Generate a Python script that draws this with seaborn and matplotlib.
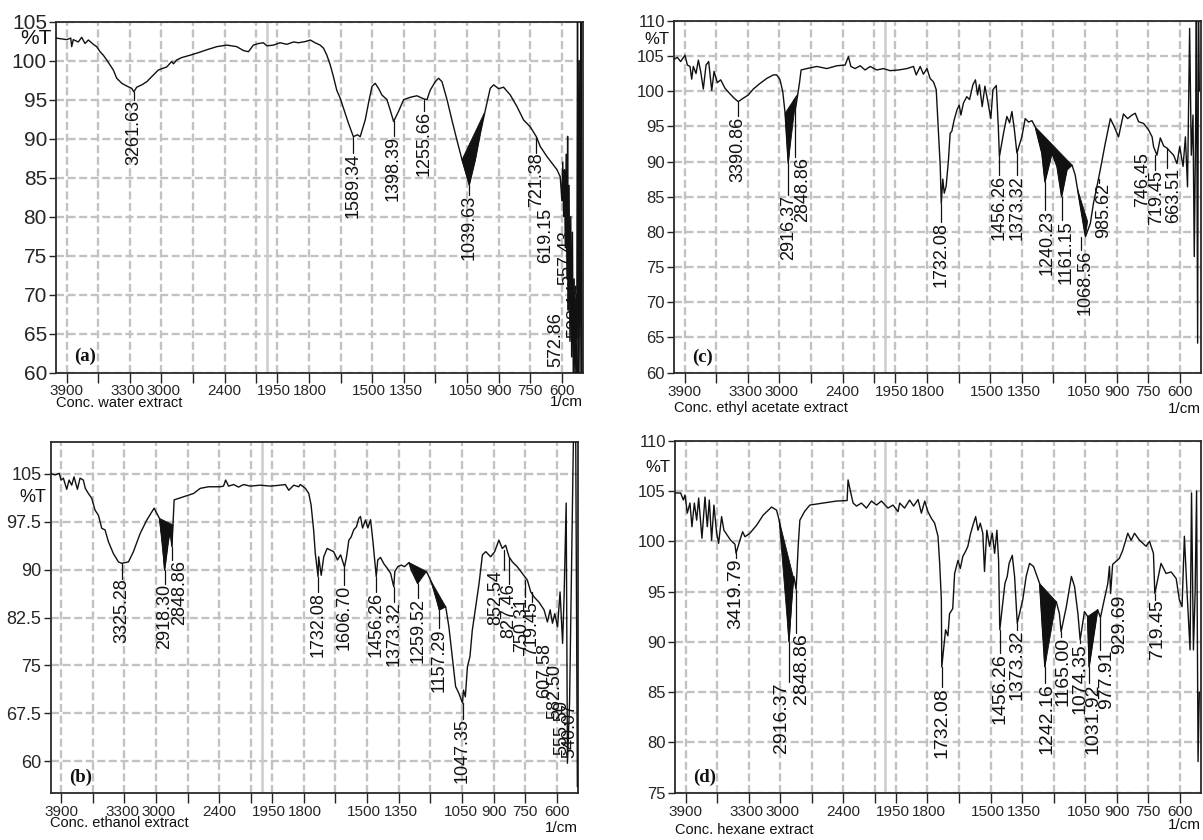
import matplotlib
matplotlib.use("Agg")
import matplotlib.pyplot as plt
import matplotlib.transforms as mtransforms
import seaborn as sns
import numpy as np

sns.set_theme(style="white")
REGULAR = ['Liberation Sans', 'DejaVu Sans']
plt.rcParams['font.family'] = REGULAR

# ---- x axis (wavenumber, 1/cm) ----
x_ticks = [3900, 3600, 3300, 3000, 2700, 2400, 2100, 1950, 1800, 1650,
           1500, 1350, 1200, 1050, 900, 750, 600]
x_tick_labels = ['3900', '', '3300', '3000', '', '2400', '', '1950', '1800', '',
                 '1500', '1350', '', '1050', '900', '750', '600']
# small horizontal nudges (px) of crowded tick labels
x_label_shift = [0, 0, -2, 2, 0, 0, 0, -3, 1, 0, -3, 2, 0, -1, 0, 0, 0]

# ---- (a) water extract: (wavenumber, %T) ----
spec_a = [
    (4000, 102.9), (3898, 102.7), (3860, 102.9), (3851, 101.8), (3836, 102.7), (3788, 102.4),
    (3756, 103.0), (3725, 102.2), (3693, 102.65), (3646, 102.1), (3614, 101.8), (3582, 101.15),
    (3551, 100.7), (3519, 100.1), (3487, 99.45), (3456, 98.8), (3424, 97.75), (3376, 97.1),
    (3329, 96.75), (3281, 96.45), (3261.63, 96.0), (3234, 96.6), (3186, 96.9), (3139, 97.3),
    (3092, 97.95), (3029, 98.8), (2949, 99.2), (2902, 99.9), (2886, 99.6), (2854, 100.1),
    (2807, 100.4), (2728, 100.7), (2633, 101.1), (2569, 101.4), (2474, 101.8), (2380, 102.0),
    (2285, 101.8), (2222, 101.3), (2174, 101.15), (2127, 102.0), (2079, 102.2), (2032, 102.3),
    (2000, 101.9), (1968, 102.0), (1937, 102.3), (1905, 102.1), (1873, 102.4), (1850, 102.3),
    (1818, 102.45), (1794, 102.65), (1771, 102.3), (1747, 102.0), (1731, 101.6), (1715, 100.7),
    (1699, 99.45), (1684, 97.95), (1668, 96.2), (1652, 95.2), (1636, 93.9), (1613, 92.0),
    (1589.34, 90.25), (1570, 90.5), (1557, 90.25), (1533, 92.4), (1518, 94.5), (1501, 96.7),
    (1486, 97.1), (1470, 96.45), (1454, 95.6), (1430, 95.0), (1415, 93.7), (1398.39, 92.2),
    (1375, 93.5), (1351, 95.0), (1320, 95.3), (1288, 95.5), (1255.66, 95.1), (1240, 95.0),
    (1225, 96.2), (1201, 97.3), (1185, 97.75), (1169, 97.3), (1145, 95.0), (1122, 92.4),
    (1098, 89.8), (1074, 87.3), (1050, 85.1), (1039.63, 84.05), (1011, 87.3), (987, 90.7),
    (963, 93.7), (940, 96.45), (924, 96.9), (900, 96.4), (877, 96.6), (845, 95.6),
    (813, 94.1), (782, 92.4), (750, 91.5), (721.38, 90.25), (703, 89.0), (671, 87.7),
    (647, 86.85), (623, 86.0), (608, 85.1), (600, 82.0), (596, 87.0), (592, 80.0),
    (588, 86.0), (584, 76.0), (580, 88.0), (576, 72.0), (573, 90.3), (570, 68.0),
    (566, 84.0), (562, 64.0), (558, 80.0), (554, 62.0), (550, 78.0), (546, 59.0),
    (542, 72.0), (538, 59.0), (534, 70.0), (530, 59.0), (526, 108.0), (522, 59.0),
    (518, 100.0), (514, 59.0), (510, 108.0), (506, 59.0),
]
fills_a = [
    [(1074, 87.3), (1050, 85.1), (1039.63, 84.05), (1011, 87.3), (987, 90.7), (968, 93.3)],
]
peaks_a = [3261.63, 1589.34, 1398.39, 1255.66, 1039.63, 721.38, 619.15, 572.86, 557.43, 538.14]
lead_a = [96.0, 90.25, 92.2, 95.1, 84.05, 90.25, 81.1, 67.8, 78.3, 71.5]
top_a = [95.0, 88.2, 90.3, 93.5, 82.8, 88.2, 81.1, 67.8, 78.3, 71.5]
dx_a = [0, 0, 0, 0, 0, 0, -12, -12, -5, 0]

# ---- (c) ethyl acetate extract ----
spec_c = [
    (4000, 104.5), (3969, 104.8), (3937, 104.2), (3896, 105.1), (3873, 103.7), (3848, 103.5),
    (3832, 101.7), (3817, 103.5), (3791, 102.5), (3769, 104.4), (3747, 102.8), (3722, 100.3),
    (3696, 103.7), (3671, 104.2), (3642, 100.1), (3620, 102.8), (3589, 101.2), (3557, 101.6),
    (3516, 100.4), (3468, 99.6), (3430, 99.0), (3390.86, 98.5), (3342, 99.0), (3295, 99.45),
    (3247, 100.3), (3183, 101.1), (3120, 101.8), (3057, 102.3), (3025, 102.3), (2994, 101.6),
    (2968, 99.9), (2946, 96.85), (2916.37, 89.75), (2877, 97.3), (2860, 98.7), (2848.86, 97.3),
    (2810, 101.1), (2794, 103.0), (2740, 103.2), (2645, 103.5), (2550, 103.2), (2455, 103.6),
    (2377, 103.7), (2345, 104.9), (2322, 103.5), (2282, 103.2), (2234, 103.6), (2187, 103.0),
    (2139, 103.5), (2076, 103.0), (2013, 103.2), (1975, 102.9), (1935, 103.0), (1895, 103.2),
    (1864, 103.5), (1851, 102.3), (1832, 103.5), (1817, 102.4), (1800, 103.2), (1785, 101.8),
    (1769, 101.3), (1756, 100.2), (1745, 94.0), (1737, 89.3), (1732.08, 84.0), (1725, 87.5),
    (1718, 85.5), (1709, 86.5), (1698, 90.2), (1690, 94.0), (1682, 94.3), (1671, 95.9),
    (1658, 97.3), (1647, 98.0), (1639, 96.6), (1627, 98.3), (1611, 99.2), (1598, 98.8),
    (1582, 100.9), (1570, 101.6), (1560, 99.45), (1551, 100.9), (1538, 97.8), (1525, 100.7),
    (1513, 98.8), (1497, 96.1), (1487, 100.2), (1471, 100.8), (1461, 94.5), (1456.26, 90.7),
    (1437, 94.0), (1421, 96.4), (1408, 95.5), (1397, 97.1), (1386, 94.7), (1373.32, 91.2),
    (1350, 93.5), (1334, 96.1), (1318, 95.6), (1302, 95.8), (1286, 94.9), (1255, 91.2),
    (1240.23, 87.1), (1207, 91.2), (1183, 89.3), (1161.15, 85.0), (1136, 88.8), (1112, 89.5),
    (1097, 88.1), (1081, 85.2), (1048, 79.3), (1025, 81.2), (1010, 84.1), (994, 86.4),
    (978, 88.8), (954, 92.6), (930, 96.1), (911, 94.9), (891, 93.5), (868, 96.75),
    (848, 96.1), (827, 96.6), (812, 96.85), (796, 95.65), (772, 95.4), (749, 94.5),
    (732, 93.5), (725, 92.1), (709, 90.9), (693, 93.35), (677, 92.2), (661, 91.9),
    (646, 91.4), (630, 90.9), (614, 89.7), (601, 92.1), (585, 89.3), (574, 93.5),
    (564, 86.4), (554, 108.9), (546, 90.9), (538, 96.6), (532, 76.5), (525, 96.4),
    (522, 112.0), (516, 64.2), (512, 112.0), (508, 100.0),
]
fills_c = [
    [(2946, 96.85), (2916.37, 89.75), (2875, 95.0), (2850, 98.0), (2835, 99.4)],
    [(1286, 94.9), (1255, 91.2), (1240.23, 87.1), (1207, 91.2), (1183, 89.3),
     (1161.15, 85.0), (1136, 88.8), (1112, 89.5)],
    [(1085, 86.0), (1048, 79.3), (1038, 81.5)],
]
peaks_c = [3390.86, 2916.37, 2848.86, 1732.08, 1456.26, 1373.32, 1240.23, 1161.15,
           1068.56, 985.62, 746.45, 719.45, 663.51]
lead_c = [98.5, 89.75, 97.3, 84.0, 90.7, 91.2, 87.1, 85.0, 79.3, 87.5, 91.4, 90.9, 91.9]
top_c = [96.4, 85.2, 90.7, 81.45, 88.1, 88.1, 83.1, 81.7, 77.4, 87.0, 91.4, 88.8, 89.1]
dx_c = [0, 0, 7, 0, 0, 0, 2, 4, 4, 5, -6, 2, 7]

# ---- (b) ethanol extract ----
spec_b = [
    (4000, 105.05), (3957, 104.8), (3917, 105.05), (3900, 104.0), (3878, 104.3), (3846, 102.55),
    (3824, 104.0), (3799, 103.2), (3777, 104.5), (3745, 102.55), (3720, 104.3), (3689, 104.0),
    (3670, 102.7), (3641, 101.9), (3609, 101.15), (3578, 99.3), (3546, 98.5), (3514, 96.45),
    (3483, 96.2), (3451, 94.35), (3404, 92.5), (3356, 91.2), (3325.28, 90.97), (3261, 91.2),
    (3214, 92.8), (3150, 95.65), (3087, 97.75), (3018, 99.6), (2967, 98.0), (2935, 94.1),
    (2918.30, 89.9), (2882, 94.6), (2865, 95.9), (2848.86, 93.6), (2828, 100.9), (2754, 101.3),
    (2644, 101.9), (2581, 102.7), (2502, 102.95), (2391, 102.95), (2360, 103.05), (2340, 104.0),
    (2312, 103.05), (2265, 103.3), (2217, 102.9), (2170, 103.3), (2106, 103.05), (2011, 103.2),
    (1958, 103.05), (1911, 103.2), (1887, 103.3), (1871, 102.4), (1847, 103.2), (1824, 102.95),
    (1816, 103.3), (1792, 102.7), (1776, 101.9), (1765, 100.1), (1753, 96.2), (1745, 92.5),
    (1732.08, 88.9), (1729, 92.0), (1717, 89.1), (1705, 92.0), (1689, 93.3), (1673, 93.05),
    (1658, 92.8), (1640, 91.5), (1625, 92.3), (1606.70, 90.4), (1597, 92.0), (1586, 94.6),
    (1575, 95.1), (1563, 96.2), (1550, 96.7), (1539, 98.0), (1531, 98.3), (1521, 96.5),
    (1507, 97.75), (1496, 96.5), (1483, 97.8), (1471, 94.1), (1456.26, 88.9), (1449, 91.5),
    (1436, 91.9), (1420, 90.9), (1404, 90.2), (1388, 89.4), (1373.32, 87.3), (1368, 89.7),
    (1354, 90.45), (1338, 90.7), (1322, 90.45), (1301, 91.1), (1290, 89.9), (1259.52, 87.8),
    (1238, 89.4), (1218, 89.7), (1199, 88.35), (1180, 86.8), (1157.29, 83.7), (1127, 84.2),
    (1112, 81.05), (1096, 76.4), (1080, 71.7), (1064, 70.6), (1047.35, 69.1), (1043, 71.15),
    (1034, 70.1), (1024, 74.8), (1012, 76.4), (1001, 80.5), (985, 84.2), (969, 87.8),
    (953, 92.3), (937, 92.8), (914, 92.0), (895, 92.8), (875, 94.6), (859, 93.3),
    (843, 93.8), (827, 92.0), (811, 91.2), (788, 90.45), (764, 89.4), (740, 88.35),
    (724, 86.5), (708, 85.7), (685, 84.9), (661, 83.7), (645, 81.8), (632, 83.7),
    (621, 81.6), (610, 83.1), (597, 81.05), (585, 86.5), (573, 78.45), (566, 85.7),
    (556, 100.4), (550, 59.7), (540, 69.1), (521, 112.0), (511, 112.0), (503, 56.0),
]
fills_b = [
    [(2967, 98.0), (2918.30, 89.9), (2882, 94.6), (2865, 95.9), (2848.86, 93.6), (2840, 97.0)],
    [(1301, 91.1), (1259.52, 87.8), (1218, 89.7)],
    [(1199, 88.35), (1157.29, 83.7), (1127, 84.2)],
]
peaks_b = [3325.28, 2918.30, 2848.86, 1732.08, 1606.70, 1456.26, 1373.32, 1259.52, 1157.29,
           1047.35, 852.54, 827.46, 750.31, 719.45, 607.58, 582.50, 555.50, 540.07]
lead_b = [90.97, 89.9, 93.6, 88.9, 90.4, 88.9, 87.3, 87.8, 83.7, 69.1, 93.0, 92.0, 88.4,
          86.5, 78.5, 75.3, 69.6, 69.1]
top_b = [88.6, 87.8, 91.5, 86.5, 87.6, 86.5, 85.0, 85.5, 80.8, 66.7, 89.9, 87.8, 85.7,
         85.0, 78.5, 75.3, 69.6, 69.1]
dx_b = [0, 0, 8, 0, 0, 0, 0, 0, 0, 0, -8, 0, -4, 0, -11, -6, -4, 0]

# ---- (d) hexane extract ----
spec_d = [
    (4000, 104.8), (3946, 104.8), (3921, 104.1), (3905, 104.6), (3883, 102.8), (3858, 103.8),
    (3839, 101.45), (3816, 103.8), (3794, 102.1), (3775, 104.3), (3744, 100.3), (3715, 104.4),
    (3693, 101.45), (3674, 104.1), (3652, 100.1), (3630, 103.6), (3604, 100.8), (3585, 99.8),
    (3557, 102.45), (3535, 101.1), (3503, 100.6), (3471, 100.1), (3430, 99.7), (3419.79, 98.8),
    (3383, 100.1), (3357, 100.95), (3335, 100.45), (3288, 100.8), (3224, 101.6), (3162, 102.6),
    (3082, 103.4), (3035, 103.1), (3010, 102.1), (2972, 99.5), (2934, 93.5), (2916.37, 90.0),
    (2889, 94.8), (2870, 96.5), (2848.86, 95.2), (2829, 99.5), (2813, 102.1), (2766, 103.0),
    (2718, 103.6), (2592, 103.8), (2465, 104.0), (2364, 104.05), (2355, 106.1), (2332, 104.95),
    (2307, 103.8), (2275, 103.5), (2228, 103.8), (2180, 103.3), (2133, 104.0), (2085, 103.6),
    (2038, 104.0), (1988, 103.3), (1964, 103.6), (1940, 102.95), (1932, 103.8), (1909, 103.3),
    (1885, 104.1), (1866, 103.5), (1845, 104.15), (1829, 102.8), (1813, 104.0), (1798, 102.95),
    (1782, 102.3), (1766, 101.8), (1750, 100.5), (1742, 97.8), (1734, 94.2), (1732.08, 87.5),
    (1714, 91.2), (1703, 90.6), (1695, 92.8), (1680, 93.3), (1671, 96.8), (1655, 98.1),
    (1644, 97.3), (1632, 98.5), (1619, 99.0), (1608, 99.5), (1596, 100.7), (1584, 101.6),
    (1571, 102.45), (1560, 101.1), (1549, 101.8), (1537, 100.8), (1529, 97.0), (1518, 101.1),
    (1505, 99.5), (1492, 100.8), (1481, 98.8), (1470, 101.1), (1462, 98.1), (1456.26, 91.2),
    (1432, 95.8), (1421, 96.5), (1412, 97.8), (1397, 98.6), (1386, 96.5), (1373.32, 91.85),
    (1347, 94.2), (1331, 96.5), (1315, 97.8), (1296, 97.5), (1267, 95.8), (1242.16, 87.5),
    (1212, 93.5), (1188, 94.0), (1173, 92.8), (1165.00, 91.0), (1140, 93.5), (1116, 96.5),
    (1101, 95.5), (1085, 92.8), (1074.35, 90.2), (1054, 93.0), (1038, 92.5), (1031.92, 87.5),
    (991, 93.2), (977.91, 92.4), (967, 93.5), (943, 95.8), (935, 97.5), (929.69, 94.8),
    (920, 97.7), (888, 98.3), (872, 99.1), (848, 100.8), (832, 100.1), (816, 100.8),
    (792, 100.1), (761, 99.5), (745, 100.0), (726, 98.8), (719.45, 94.8), (690, 97.8),
    (666, 96.8), (642, 96.95), (618, 96.3), (603, 94.2), (590, 93.5), (579, 100.5),
    (566, 94.8), (552, 89.2), (545, 104.8), (536, 89.2), (528, 94.8), (521, 105.0),
    (514, 78.1), (508, 85.0),
]
fills_d = [
    [(3010, 102.1), (2916.37, 90.0), (2872, 96.3)],
    [(1267, 95.8), (1242.16, 87.5), (1188, 94.0)],
    [(1040, 92.5), (1031.92, 87.5), (991, 93.2)],
]
peaks_d = [3419.79, 2916.37, 2848.86, 1732.08, 1456.26, 1373.32, 1242.16, 1165.00,
           1074.35, 1031.92, 977.91, 929.69, 719.45]
lead_d = [98.8, 90.0, 95.2, 87.5, 91.2, 91.85, 87.5, 91.0, 90.2, 87.5, 92.4, 94.8, 94.8]
top_d = [98.3, 86.0, 90.85, 85.5, 88.9, 91.2, 85.9, 90.5, 89.9, 85.9, 89.2, 94.7, 94.2]
dx_d = [0, -7, 5, 0, 0, 0, 2, 2, 0, 4, 6, 9, 3]


def wn_forward(w):
    w = np.asarray(w, dtype=float)
    return np.where(w >= 2000, (w - 2000) / 300.0, (w - 2000) / 150.0)


def wn_inverse(u):
    u = np.asarray(u, dtype=float)
    return np.where(u >= 0, 2000 + 300.0 * u, 2000 + 150.0 * u)


W, H = 1203, 840
fig = plt.figure(figsize=(W / 100, H / 100), dpi=100)
GRID_COLOR = '#c2c2c2'
GRID_DASH = (0, (3.4, 1.5))


def add_axes_px(left, right, top, bottom):
    return fig.add_axes([left / W, 1 - bottom / H, (right - left) / W, (bottom - top) / H])


def draw_panel(ax, spec, fills, peaks, lead, tops, dxs, ylim, yticks, ysize,
               name, letter, pct_y, name_y, unit_y, peak_size=13):
    wn = [p[0] for p in spec]
    tr = [p[1] for p in spec]
    ax.set_xscale('function', functions=(wn_forward, wn_inverse))

    # dashed grid at every tick, plus the solid scale-change line at 2000
    ax.vlines(x_ticks, 0, 1, transform=ax.get_xaxis_transform(), colors=GRID_COLOR,
              linestyles=[GRID_DASH], linewidth=1.7, zorder=1)
    ax.hlines(yticks, 0, 1, transform=ax.get_yaxis_transform(), colors=GRID_COLOR,
              linestyles=[GRID_DASH], linewidth=1.7, zorder=1)
    ax.axvline(2000, color='#cccccc', lw=1.8, zorder=1)

    sns.lineplot(x=wn, y=tr, ax=ax, sort=False, estimator=None,
                 color='#111111', linewidth=1.0, zorder=3)
    for poly in fills:
        ax.fill([p[0] for p in poly], [p[1] for p in poly], color='#111111', lw=0.6, zorder=3)

    for w, lt, tt, dx in zip(peaks, lead, tops, dxs):
        if lt - tt > 0.2:
            ax.plot([w, w], [tt, lt], color='#111111', lw=0.9, zorder=3)
        ax.annotate(f"{w:.2f}", xy=(w, tt), xytext=(dx * 0.72, 0), textcoords='offset points',
                    rotation=90, ha='center', va='top', fontsize=peak_size,
                    color='#111111', zorder=4)

    ax.set_xlim(4000, 500)
    ax.set_ylim(*ylim)
    ax.set_xticks(x_ticks)
    ax.set_xticklabels(x_tick_labels)
    ax.set_yticks(yticks)
    ax.set_yticklabels([f"{v:g}" for v in yticks])
    ax.set_xlabel('')
    ax.set_ylabel('')
    ax.tick_params(axis='x', direction='out', length=7, width=1.0, pad=1.5,
                   labelsize=11, color='#222222', bottom=True)
    ax.tick_params(axis='y', direction='out', length=5, width=1.0, pad=1.5,
                   labelsize=ysize, color='#222222', left=True)
    for s in ax.spines.values():
        s.set_visible(True)
        s.set_color('#2a2a2a')
        s.set_linewidth(1.3)
    for lab, sh in zip(ax.get_xticklabels(), x_label_shift):
        if sh:
            lab.set_transform(lab.get_transform() +
                              mtransforms.ScaledTranslation(sh / 100, 0, fig.dpi_scale_trans))

    ax.text(-0.008, pct_y, '%T', transform=ax.get_yaxis_transform(), ha='right',
            va='center', fontsize=ysize, color='#111111')
    ax.text(0.0, name_y, name, transform=ax.transAxes, ha='left', va='center',
            fontsize=10.5, color='#111111')
    ax.text(1.0, unit_y, '1/cm', transform=ax.transAxes, ha='right', va='center',
            fontsize=11, color='#111111')
    ax.text(0.035, 0.02, letter, transform=ax.transAxes, ha='left', va='bottom',
            fontsize=13.5, fontweight='bold', family=['Liberation Serif', 'DejaVu Serif'],
            color='#111111')


ax_a = add_axes_px(56, 583, 21.7, 372.5)
ax_c = add_axes_px(674, 1201, 20.7, 372.7)
ax_b = add_axes_px(50.5, 578, 441.7, 793.3)
ax_d = add_axes_px(675, 1201, 440.7, 792.7)

draw_panel(ax_a, spec_a, fills_a, peaks_a, lead_a, top_a, dx_a, (60, 105),
           [60, 65, 70, 75, 80, 85, 90, 95, 100, 105], 15,
           'Conc. water extract', '(a)', 102.9, -0.087, -0.085)
draw_panel(ax_c, spec_c, fills_c, peaks_c, lead_c, top_c, dx_c, (60, 110),
           [60, 65, 70, 75, 80, 85, 90, 95, 100, 105, 110], 12,
           'Conc. ethyl acetate extract', '(c)', 107.3, -0.1, -0.103)
draw_panel(ax_b, spec_b, fills_b, peaks_b, lead_b, top_b, dx_b, (55, 110),
           [60, 67.5, 75, 82.5, 90, 97.5, 105], 13,
           'Conc. ethanol extract', '(b)', 101.2, -0.085, -0.098)
draw_panel(ax_d, spec_d, fills_d, peaks_d, lead_d, top_d, dx_d, (75, 110),
           [75, 80, 85, 90, 95, 100, 105, 110], 12,
           'Conc. hexane extract', '(d)', 107.3, -0.106, -0.092, peak_size=14)

fig.savefig('out.png', dpi=100, facecolor='white')
